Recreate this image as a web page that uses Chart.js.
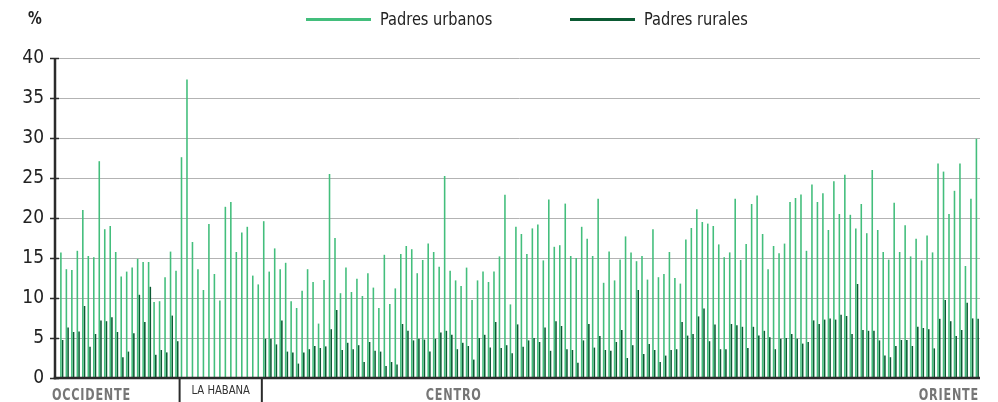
<!DOCTYPE html>
<html>
<head>
<meta charset="utf-8">
<script src="https://cdn.jsdelivr.net/npm/chart.js@4.4.1/dist/chart.umd.min.js"></script>
<style>
html,body{margin:0;padding:0;background:#fff;}
#wrap{position:relative;width:998px;height:402px;overflow:hidden;}
#c{position:absolute;left:0;top:0;}
.lgtxt{position:absolute;top:8px;font-family:"DejaVu Sans Condensed","DejaVu Sans",sans-serif;font-size:18px;line-height:22px;color:#222;white-space:nowrap;transform:scaleX(0.9);transform-origin:0 0;}
.lgsw{position:absolute;top:18px;height:3px;}
#pct{position:absolute;left:28px;top:7px;font-family:"DejaVu Sans Condensed","DejaVu Sans",sans-serif;font-weight:bold;font-size:18px;line-height:22px;color:#222;transform:scaleX(0.85);transform-origin:0 0;}
</style>
</head>
<body>
<div id="wrap">
<canvas id="c" width="998" height="402"></canvas>
<div id="pct">%</div>
<div id="legend"></div>
</div>
<script>
// ---- data ----
const regionNames = ['OCCIDENTE', 'LA HABANA', 'CENTRO', 'ORIENTE'];
const regionCounts = [22, 15, 70, 61];

const seriesNames = ['Padres urbanos', 'Padres rurales'];

const urbanOccidente = [15.7, 13.6, 13.5, 15.9, 21.0, 15.25, 15.1, 27.1, 18.6, 19.0, 15.75, 12.7, 13.3, 13.8, 14.9, 14.5, 14.5, 9.5, 9.6, 12.6, 15.8, 13.4];
const ruralOccidente = [4.75, 6.3, 5.75, 5.8, 9.0, 3.9, 5.5, 7.2, 7.1, 7.6, 5.75, 2.6, 3.3, 5.6, 10.4, 7.0, 11.4, 2.9, 3.5, 3.2, 7.8, 4.6];

const urbanHabana = [27.6, 37.3, 17.0, 13.6, 11.0, 19.25, 13.0, 9.7, 21.4, 22.0, 15.75, 18.2, 18.9, 12.8, 11.7];
const ruralHabana = [null, null, null, null, null, null, null, null, null, null, null, null, null, null, null];

const urbanCentroOriente = [
  19.6, 13.3, 16.2, 13.6, 14.4, 9.6, 8.75, 10.9, 13.6, 12.0, 6.8, 12.25,
  25.5, 17.5, 10.6, 13.8, 10.75, 12.4, 10.25, 13.1, 11.3, 8.75, 15.4, 9.25, 11.2, 15.5, 16.5, 16.1, 13.1, 14.75,
  16.8, 15.75, 13.9, 25.25, 13.4, 12.2, 11.5, 13.8, 9.75, 12.2, 13.3, 12.0, 13.3, 15.2, 22.9, 9.2, 18.9,
  18.0, 15.5, 18.7, 19.2, 14.7, 22.3, 16.4, 16.6, 21.8, 15.25, 15.0, 18.9, 17.4, 15.25, 22.4, 11.9, 15.8,
  12.2, 14.8, 17.7, 15.7, 14.6, 15.25, 12.3, 18.6, 12.6, 13.0, 15.75, 12.5, 11.8, 17.3, 18.75, 21.1, 19.5, 19.3,
  19.0, 16.7, 15.1, 15.7, 22.4, 14.75, 16.75, 21.75, 22.8, 18.0, 13.6, 16.5, 15.6, 16.8, 22.0, 22.5, 22.95,
  15.9, 24.2, 22.0, 23.1, 18.5, 24.6, 20.5, 25.4, 20.4, 18.7, 21.75, 18.1, 26.0, 18.5, 15.75, 14.8, 21.9,
  15.75, 19.1, 15.2, 17.4, 14.7, 17.8, 15.7, 26.8, 25.8, 20.5, 23.4, 26.8, 14.0, 22.4, 29.9
];
const ruralCentroOriente = [
  4.9, 4.9, 4.2, 7.2, 3.3, 3.2, 1.8, 3.2, 3.6, 4.0, 3.75, 3.95,
  6.1, 8.5, 3.5, 4.4, 3.6, 4.1, 2.0, 4.5, 3.4, 3.3, 1.5, 2.0, 1.7, 6.75, 5.9, 4.7, 4.9, 4.8,
  3.3, 4.9, 5.7, 5.9, 5.4, 3.6, 4.4, 4.0, 2.3, 5.0, 5.4, 3.8, 7.0, 3.75, 4.1, 3.1, 6.7,
  3.9, 4.7, 5.0, 4.5, 6.3, 3.4, 7.1, 6.5, 3.6, 3.5, 1.9, 4.7, 6.75, 3.8, 5.25, 3.5, 3.4,
  4.5, 6.0, 2.5, 4.1, 11.0, 3.0, 4.25, 3.5, 2.0, 2.8, 3.5, 3.6, 7.0, 5.3, 5.5, 7.7, 8.7, 4.6,
  6.7, 3.6, 3.6, 6.75, 6.6, 6.4, 3.75, 6.4, 5.3, 5.9, 5.1, 3.6, 4.9, 5.0, 5.5, 4.9, 4.3,
  4.5, 7.2, 6.75, 7.3, 7.45, 7.3, 7.9, 7.75, 5.5, 11.75, 6.0, 5.9, 5.9, 4.7, 2.8, 2.6, 4.0,
  4.75, 4.75, 4.0, 6.4, 6.25, 6.1, 3.7, 7.4, 9.75, 7.1, 5.25, 6.0, 9.4, 7.45, 7.4
];

const yTicks = [0, 5, 10, 15, 20, 25, 30, 35, 40];

// ---- build ----
const urban = urbanOccidente.concat(urbanHabana, urbanCentroOriente);
const rural = ruralOccidente.concat(ruralHabana, ruralCentroOriente);
const categories = [];
regionNames.forEach((r, i) => { for (let k = 1; k <= regionCounts[i]; k++) categories.push(r + ' ' + k); });

const colors = ['#43be7c', '#0b5a33'];
const FONT = '"DejaVu Sans Condensed", "DejaVu Sans", sans-serif';

const regionPlugin = {
  id: 'regionPlugin',
  afterDraw(chart) {
    const { ctx, chartArea: a, scales: { x } } = chart;
    const half = (x.getPixelForValue(1) - x.getPixelForValue(0)) / 2;
    const ax = a.left - 4;
    ctx.save();
    ctx.strokeStyle = '#2b2b2b';
    ctx.lineWidth = 2.5;
    ctx.beginPath(); ctx.moveTo(ax, a.top); ctx.lineTo(ax, a.bottom + 1.25); ctx.stroke();
    ctx.beginPath(); ctx.moveTo(ax - 1.25, a.bottom); ctx.lineTo(a.right, a.bottom); ctx.stroke();

    const drawScaled = (text, px, py, sx, align) => {
      ctx.save();
      ctx.translate(px, py);
      ctx.scale(sx, 1);
      ctx.textAlign = align;
      ctx.fillText(text, 0, 0);
      ctx.restore();
    };

    let start = 0;
    regionNames.forEach((name, i) => {
      const n = regionCounts[i];
      const x0 = x.getPixelForValue(start) - half;
      const x1 = x.getPixelForValue(start + n - 1) + half;
      if (i === 1 || i === 2) {
        ctx.strokeStyle = '#2b2b2b'; ctx.lineWidth = 2;
        ctx.beginPath(); ctx.moveTo(x0, a.bottom); ctx.lineTo(x0, chart.height); ctx.stroke();
      }
      ctx.textBaseline = 'alphabetic';
      if (i === 1) {
        ctx.font = '13px ' + FONT;
        ctx.fillStyle = '#333';
        ctx.letterSpacing = '0px';
        drawScaled(name, (x0 + x1) / 2, 394, 0.86, 'center');
      } else {
        ctx.font = 'bold 16px ' + FONT;
        ctx.fillStyle = '#767676';
        ctx.letterSpacing = '1px';
        if (i === 0) drawScaled(name, ax - 3, 400, 0.78, 'left');
        else if (i === 2) drawScaled(name, (x0 + x1) / 2, 400, 0.78, 'center');
        else drawScaled(name, a.right - 1, 400, 0.78, 'right');
      }
      start += n;
    });
    ctx.restore();
  }
};

new Chart(document.getElementById('c'), {
  type: 'bar',
  data: {
    labels: categories,
    datasets: [
      { label: seriesNames[0], data: urban, backgroundColor: colors[0], borderWidth: 0 },
      { label: seriesNames[1], data: rural, backgroundColor: colors[1], borderWidth: 0 }
    ]
  },
  options: {
    responsive: false,
    animation: false,
    devicePixelRatio: 1,
    categoryPercentage: 0.62,
    barPercentage: 0.93,
    layout: { padding: { top: 58, right: 18, bottom: 24, left: 0 } },
    plugins: { legend: { display: false }, tooltip: { enabled: false } },
    scales: {
      x: { display: false },
      y: {
        min: 0, max: 40,
        afterBuildTicks: (s) => { s.ticks = yTicks.map(v => ({ value: v })); },
        afterFit: (s) => { s.width = 59; },
        border: { display: false },
        grid: { color: '#b3b3b3', lineWidth: 1, tickColor: '#2b2b2b', tickLength: 9, tickWidth: 1.5 },
        ticks: {
          padding: 6,
          color: '#222',
          font: { family: FONT, size: 19 }
        }
      }
    }
  },
  plugins: [regionPlugin]
});

// legend (HTML)
const legendPos = [[306, 380], [570, 644]];
const lg = document.getElementById('legend');
seriesNames.forEach((n, i) => {
  const sw = document.createElement('div');
  sw.className = 'lgsw';
  sw.style.left = legendPos[i][0] + 'px';
  sw.style.width = '65px';
  sw.style.background = colors[i];
  lg.appendChild(sw);
  const t = document.createElement('div');
  t.className = 'lgtxt';
  t.style.left = legendPos[i][1] + 'px';
  t.textContent = n;
  lg.appendChild(t);
});
</script>
</body>
</html>
